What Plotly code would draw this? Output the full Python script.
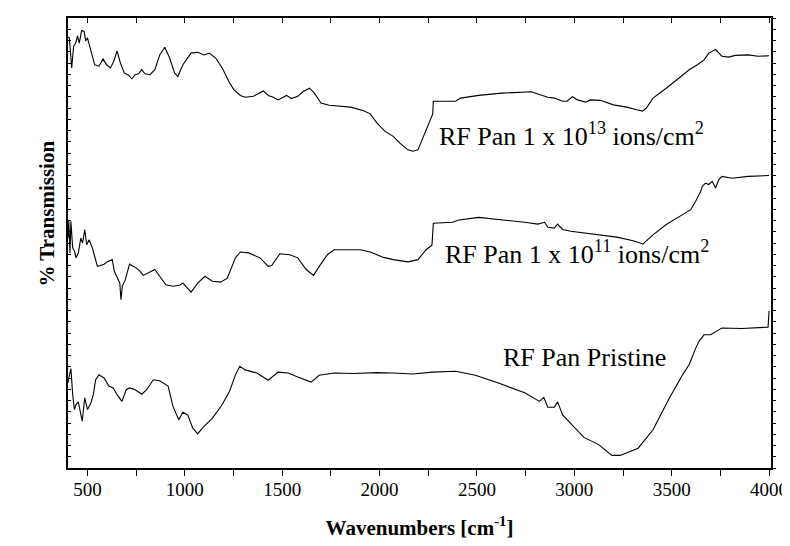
import plotly.graph_objects as go

# ── FTIR spectra ─────────────────────────────────────────────────────────────
WN_1E13 = [400, 407, 419, 429, 439, 449, 458, 470, 483, 491, 500, 517, 537, 559, 580,
           598, 618, 635, 652, 669, 689, 711, 728, 745, 762, 779, 795, 821, 846, 871,
           897, 922, 947, 964, 990, 1032, 1066, 1099, 1125, 1158, 1192, 1226, 1251,
           1285, 1310, 1352, 1403, 1428, 1454, 1479, 1522, 1547, 1580, 1606, 1640,
           1665, 1699, 1741, 1783, 1851, 1918, 1952, 1986, 2028, 2070, 2104, 2146,
           2171, 2197, 2231, 2264, 2273, 2276, 2307, 2391, 2416, 2509, 2627, 2779,
           2813, 2864, 2897, 2940, 2962, 2990, 3016, 3058, 3083, 3134, 3201, 3269,
           3320, 3350, 3370, 3404, 3472, 3539, 3590, 3632, 3666, 3691, 3725, 3758,
           3792, 3826, 3893, 3944, 4000]
T_1E13 = [95.7, 95.6, 88.9, 93.8, 94.4, 96.0, 94.4, 97.2, 97.0, 94.9, 95.6, 92.7, 89.6,
          89.3, 90.9, 89.6, 88.9, 90.4, 92.7, 90.0, 87.8, 87.3, 86.5, 87.4, 87.6, 88.5,
          87.6, 87.4, 88.5, 91.8, 93.5, 91.1, 87.8, 87.0, 89.6, 92.2, 92.4, 91.8, 92.2,
          91.1, 88.9, 85.9, 84.1, 82.8, 82.4, 82.6, 83.8, 82.8, 82.4, 81.8, 82.8, 82.1,
          82.6, 83.6, 84.4, 83.3, 81.1, 80.6, 80.4, 80.2, 79.4, 78.7, 76.7, 74.8, 73.7,
          72.2, 70.7, 70.4, 70.7, 74.1, 77.4, 78.7, 81.5, 81.5, 81.5, 82.2, 82.8, 83.3,
          83.6, 83.1, 82.4, 82.2, 81.5, 81.5, 82.5, 81.8, 81.3, 81.8, 81.7, 80.7, 80.2,
          79.6, 79.3, 80.0, 82.2, 84.4, 86.7, 88.5, 89.6, 90.7, 92.2, 93.0, 91.5, 91.3,
          91.7, 91.8, 91.5, 91.6]

WN_1E11 = [400, 404, 410, 415, 424, 433, 441, 453, 466, 475, 486, 496, 509, 525, 537,
           551, 567, 585, 601, 627, 638, 652, 666, 672, 679, 694, 716, 737, 762, 787,
           813, 846, 871, 902, 939, 973, 990, 1015, 1032, 1066, 1103, 1142, 1184, 1218,
           1260, 1285, 1327, 1386, 1428, 1446, 1488, 1538, 1580, 1623, 1661, 1690, 1732,
           1766, 1834, 1901, 1952, 2020, 2070, 2146, 2197, 2239, 2269, 2276, 2374, 2408,
           2509, 2627, 2745, 2813, 2847, 2864, 2897, 2914, 2940, 2982, 3049, 3117, 3218,
           3302, 3353, 3404, 3472, 3556, 3598, 3623, 3649, 3657, 3674, 3691, 3708, 3725,
           3742, 3758, 3809, 3893, 4000]
T_1E11 = [51.1, 54.9, 47.8, 54.8, 48.9, 48.2, 46.7, 47.8, 51.1, 50.0, 53.0, 49.6, 50.7,
          48.9, 47.0, 44.8, 45.0, 45.3, 45.8, 46.3, 43.7, 42.2, 41.1, 37.4, 40.4, 41.8,
          45.3, 44.8, 44.1, 42.8, 43.3, 44.1, 42.6, 40.7, 40.4, 40.6, 41.1, 40.0, 39.1,
          41.1, 42.6, 41.5, 41.3, 42.2, 46.7, 48.0, 47.8, 46.7, 44.8, 45.0, 47.6, 47.4,
          46.7, 44.1, 42.8, 44.8, 47.4, 48.5, 48.5, 48.5, 48.0, 46.8, 46.3, 45.8, 46.3,
          48.5, 49.5, 54.4, 54.6, 55.1, 55.7, 55.2, 54.6, 54.2, 54.6, 53.5, 53.3, 54.2,
          53.0, 52.6, 52.2, 51.8, 51.3, 50.5, 49.8, 51.8, 54.1, 56.3, 57.4, 59.3, 61.5,
          62.6, 63.3, 63.0, 63.7, 62.2, 64.1, 64.8, 64.4, 64.8, 65.0]

WN_PRISTINE = [400, 402, 415, 424, 433, 441, 453, 463, 473, 486, 500, 517, 530, 542, 559,
               585, 610, 632, 652, 677, 699, 716, 745, 779, 804, 838, 871, 914, 939, 969,
               990, 1015, 1040, 1066, 1091, 1142, 1192, 1229, 1260, 1282, 1310, 1370,
               1428, 1479, 1530, 1580, 1648, 1690, 1766, 1868, 1986, 2070, 2171, 2273,
               2391, 2492, 2610, 2745, 2821, 2843, 2864, 2897, 2914, 2940, 2990, 3049,
               3125, 3193, 3235, 3328, 3404, 3489, 3556, 3590, 3624, 3641, 3666, 3700,
               3742, 3758, 3860, 3995, 4000]
T_PRISTINE = [18.9, 19.6, 22.1, 16.3, 13.0, 14.1, 14.7, 12.2, 10.4, 15.6, 13.0, 14.4,
              16.3, 19.6, 20.7, 20.0, 18.2, 17.8, 16.3, 14.8, 17.4, 17.8, 17.4, 16.4,
              17.4, 19.6, 19.4, 18.2, 13.7, 10.7, 12.4, 11.8, 8.9, 7.6, 8.9, 11.1, 14.1,
              17.0, 20.7, 22.6, 21.8, 21.1, 19.5, 21.3, 21.1, 20.2, 19.1, 20.6, 21.1,
              21.0, 21.2, 21.1, 20.9, 21.3, 21.5, 20.6, 18.9, 16.7, 14.8, 15.7, 13.5,
              13.5, 14.7, 11.8, 9.6, 6.8, 5.2, 2.8, 2.8, 4.4, 8.5, 15.6, 20.7, 23.0, 26.7,
              28.2, 29.6, 29.6, 30.7, 31.1, 31.0, 31.3, 34.9]

LABELS = ["RF Pan 1 x 10<sup>13</sup> ions/cm<sup>2</sup>",
          "RF Pan 1 x 10<sup>11</sup> ions/cm<sup>2</sup>",
          "RF Pan Pristine"]
LABEL_X = [2987, 3015, 3050]
LABEL_Y = [74.1, 47.8, 24.6]

X_RANGE = [400, 4010]
Y_RANGE = [0, 100]

SERIF = "Liberation Serif"

fig = go.Figure()
for wn, t in [(WN_1E13, T_1E13), (WN_1E11, T_1E11), (WN_PRISTINE, T_PRISTINE)]:
    fig.add_trace(go.Scatter(x=wn, y=t, mode="lines",
                             line=dict(color="black", width=1.1),
                             showlegend=False, hoverinfo="skip"))

# invisible trace so the top / right tick axes get drawn
fig.add_trace(go.Scatter(x=[X_RANGE[0]], y=[Y_RANGE[0]], xaxis="x2", yaxis="y2",
                         mode="markers", marker=dict(opacity=0),
                         showlegend=False, hoverinfo="skip"))

for text, x, y in zip(LABELS, LABEL_X, LABEL_Y):
    fig.add_annotation(x=x, y=y, text=text, showarrow=False,
                       font=dict(family=SERIF, size=26, color="black"))

# y title placed by hand (sits a bit above the plot centre in the original)
fig.add_annotation(xref="paper", yref="paper", x=-0.05, y=0.565,
                   text="<b>% Transmission</b>", textangle=-90, showarrow=False,
                   font=dict(family=SERIF, size=21, color="black"))

fig.update_layout(
    width=790, height=546,
    margin=dict(l=60, r=19, t=10, b=86),
    paper_bgcolor="white", plot_bgcolor="white",
    font=dict(family=SERIF, color="black"),
    xaxis=dict(range=X_RANGE, showgrid=False, zeroline=False,
               showline=True, linecolor="black", linewidth=1.5,
               ticks="outside", ticklen=6, tickwidth=1.3, tickcolor="black",
               tick0=500, dtick=500, tickfont=dict(family=SERIF, size=19),
               ticklabelstandoff=-3,
               minor=dict(dtick=250, tick0=250, ticks="outside", ticklen=6,
                          tickwidth=1.3, tickcolor="black"),
               title=dict(text="<b>Wavenumbers [cm<sup>-1</sup>]</b>",
                          font=dict(family=SERIF, size=21), standoff=22)),
    yaxis=dict(range=Y_RANGE, showgrid=False, zeroline=False,
               showline=True, linecolor="black", linewidth=1.5,
               ticks="inside", ticklen=3, tickwidth=1, tickcolor="black",
               dtick=2.5, showticklabels=False),
    xaxis2=dict(range=X_RANGE, overlaying="x", side="top", anchor="y2",
                showgrid=False, zeroline=False, showline=True,
                linecolor="black", linewidth=1.5,
                ticks="inside", ticklen=5, tickwidth=1.3, tickcolor="black",
                tick0=250, dtick=250, showticklabels=False),
    yaxis2=dict(range=Y_RANGE, overlaying="y", side="right", anchor="x2",
                showgrid=False, zeroline=False, showline=True,
                linecolor="black", linewidth=1.5,
                ticks="outside", ticklen=3, tickwidth=1, tickcolor="black",
                dtick=2.5, showticklabels=False),
)

fig.write_html("out.html")
